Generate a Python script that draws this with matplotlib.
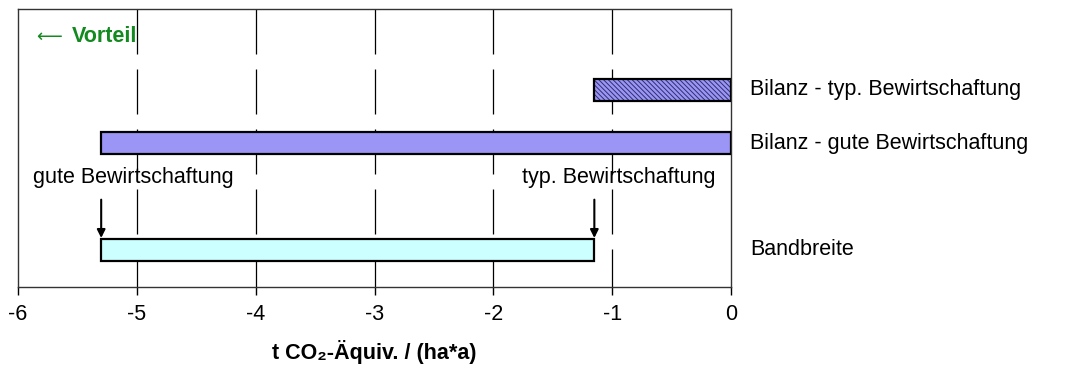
import numpy as np
import matplotlib.pyplot as plt

plt.rcParams['font.family'] = ['Liberation Sans', 'DejaVu Sans']
plt.rcParams['hatch.linewidth'] = 0.7

# data
labels = ['Bilanz - typ. Bewirtschaftung', 'Bilanz - gute Bewirtschaftung', 'Bandbreite']
ypos = [3, 2, 0]
starts = [-1.15, -5.3, -5.3]
ends = [0.0, 0.0, -1.15]
colors = ['#9b96f5', '#9b96f5', '#ccffff']
hatches = ['\\' * 7, None, None]
gut_val = -5.3
typ_val = -1.15
xticks = [-6, -5, -4, -3, -2, -1, 0]

fs = 15.5

fig = plt.figure(figsize=(10.69, 3.74), dpi=100)
ax = fig.add_axes([18/1069, 87/374, 713/1069, 278/374])

ax.set_xlim(-6, 0)
ax.set_ylim(-0.7, 4.52)

# dashed grid lines drawn from top down
for xt in xticks[1:-1]:
    ax.plot([xt, xt], [4.52, -0.7], color='black', lw=0.9,
            linestyle=(0, (36, 12)), zorder=1)

for y, s, e, c, h, lab in zip(ypos, starts, ends, colors, hatches, labels):
    if h:
        # hatch in dark blue, outline drawn separately
        ax.barh(y, e - s, left=s, height=0.41, color=c, edgecolor='#2e2e6e',
                linewidth=0, hatch=h, zorder=3)
        ax.barh(y, e - s, left=s, height=0.41, fill=False, edgecolor='black',
                linewidth=1.6, zorder=4)
    else:
        ax.barh(y, e - s, left=s, height=0.41, color=c, edgecolor='black',
                linewidth=1.6, zorder=3)
    ax.text(0.16, y, lab, fontsize=fs, va='center', ha='left', clip_on=False)

ax.text(-5.87, 1.36, 'gute Bewirtschaftung', fontsize=fs, va='center', ha='left')
ax.text(-0.13, 1.36, 'typ. Bewirtschaftung', fontsize=fs, va='center', ha='right')
for xv in [gut_val, typ_val]:
    ax.annotate('', xy=(xv, 0.22), xytext=(xv, 0.94),
                arrowprops=dict(arrowstyle='-|>', color='black', lw=1.5,
                                mutation_scale=12, shrinkA=0, shrinkB=0))

ax.text(-5.85, 4.0, '\u27f5', fontsize=13, color='#138a1f',
        va='center', ha='left', family=['DejaVu Sans'])
ax.text(-5.55, 4.0, 'Vorteil', fontsize=fs, fontweight='bold',
        color='#138a1f', va='center', ha='left')

ax.set_yticks([])
ax.set_xticks(xticks)
ax.set_xticklabels([str(t) for t in xticks], fontsize=fs)
ax.tick_params(axis='x', direction='out', length=6, width=1, pad=6)
for sp in ax.spines.values():
    sp.set_linewidth(1.0)
    sp.set_color('#333333')

ax.set_xlabel('t CO\u2082-\u00c4quiv. / (ha*a)', fontsize=fs, fontweight='bold',
              labelpad=11)

fig.savefig('out.png', dpi=100)
